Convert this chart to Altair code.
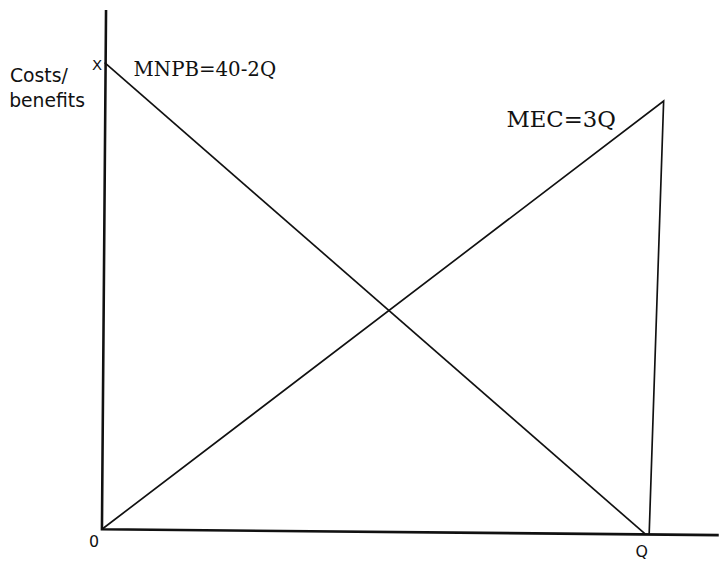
import altair as alt
import pandas as pd

# Axes drawn as one polyline (vertical axis, origin, horizontal axis)
axis_q = [0.15, 0.0, 22.6]
axis_v = [44.5, 0.0, -0.5]

# MNPB = 40 - 2Q (as drawn)
mnpb_q = [0.1, 19.9]
mnpb_v = [40.0, -0.4]

# MEC = 3Q (as drawn, with the drop line at the right)
mec_q = [0.0, 20.58, 20.05]
mec_v = [0.0, 36.7, -0.4]

# Labels
lab_text = ["Costs/", "benefits", "X", "MNPB=40-2Q", "MEC=3Q", "0", "Q"]
lab_q = [-3.37, -3.40, -0.18, 1.16, 14.82, -0.29, 19.78]
lab_v = [38.3, 36.2, 39.75, 39.32, 35.08, -1.10, -1.95]
lab_font = ["DejaVu Sans", "DejaVu Sans", "DejaVu Sans", "DejaVu Serif",
            "DejaVu Serif", "DejaVu Sans", "DejaVu Sans"]
lab_size = [19, 19, 15, 20, 23, 16, 16]
lab_align = ["left", "left", "center", "left", "left", "center", "center"]
lab_base = ["alphabetic", "alphabetic", "middle", "middle", "middle", "middle", "middle"]

rows = []
for name, qs, vs, w in [("axes", axis_q, axis_v, 2.6), ("mnpb", mnpb_q, mnpb_v, 1.7), ("mec", mec_q, mec_v, 1.7)]:
    for i, (q, v) in enumerate(zip(qs, vs)):
        rows.append({"series": name, "q": q, "v": v, "ord": i, "w": w})
lines_df = pd.DataFrame(rows)

xs = alt.Scale(domain=[-3.442, 22.645], nice=False, zero=False)
ys = alt.Scale(domain=[-2.712, 44.41], nice=False, zero=False)

layers = []
for name in ["axes", "mnpb", "mec"]:
    d = lines_df[lines_df.series == name]
    w = float(d.w.iloc[0])
    layers.append(
        alt.Chart(d).mark_line(color="#111111", strokeWidth=w, clip=False).encode(
            x=alt.X("q:Q", scale=xs, axis=None),
            y=alt.Y("v:Q", scale=ys, axis=None),
            order="ord:Q",
        )
    )

for t, q, v, f, s, a, b in zip(lab_text, lab_q, lab_v, lab_font, lab_size, lab_align, lab_base):
    layers.append(
        alt.Chart(pd.DataFrame({"t": [t], "q": [q], "v": [v]})).mark_text(
            font=f, fontSize=s, align=a, baseline=b, color="#111111"
        ).encode(
            x=alt.X("q:Q", scale=xs, axis=None),
            y=alt.Y("v:Q", scale=ys, axis=None),
            text="t:N",
        )
    )

chart = alt.layer(*layers).properties(
    width=720, height=556, padding=0, autosize=alt.AutoSizeParams(type="none")
).configure(background="white", view=alt.ViewConfig(stroke=None))

chart.save("out.html", embed_options={"renderer": "svg", "actions": False})
